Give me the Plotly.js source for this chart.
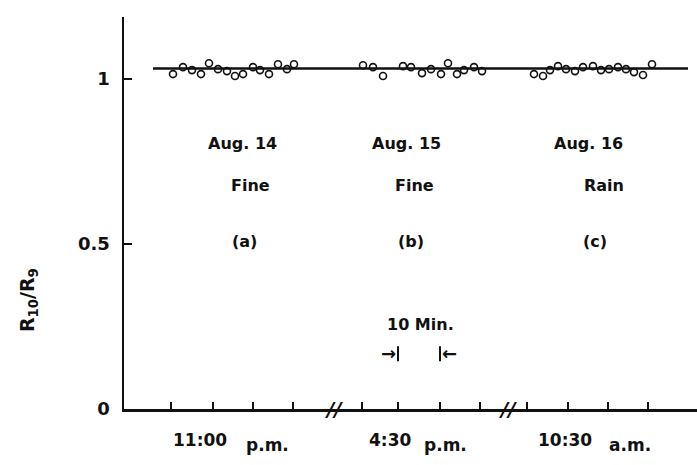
<!DOCTYPE html>
<html>
<head>
<meta charset="utf-8">
<script src="https://cdn.plot.ly/plotly-3.0.1.min.js"></script>
<style>html,body{margin:0;padding:0;background:#fff;}#chart{width:697px;height:465px;}</style>
</head>
<body>
<div id="chart"></div>
<script>
// x in minutes along a broken time axis (three recording sessions)
const xA = [12.25, 14.75, 17, 19.25, 21.25, 23.5, 25.75, 27.75, 29.75, 32.25, 34, 36.25, 38.5, 40.75, 42.5];
const yA = [1.015, 1.036, 1.027, 1.015, 1.048, 1.030, 1.024, 1.009, 1.015, 1.036, 1.027, 1.015, 1.045, 1.030, 1.045];
const xB = [59.75, 62.25, 64.75, 69.75, 71.75, 74.5, 76.75, 79.25, 81, 83.25, 85, 87.5, 89.5];
const yB = [1.042, 1.036, 1.009, 1.039, 1.036, 1.018, 1.030, 1.015, 1.048, 1.015, 1.027, 1.036, 1.024];
const xC = [102.5, 104.75, 106.5, 108.5, 110.5, 112.75, 114.75, 117.25, 119.25, 121.25, 123.5, 125.5, 127.5, 129.75, 132];
const yC = [1.015, 1.009, 1.027, 1.039, 1.030, 1.024, 1.036, 1.039, 1.027, 1.030, 1.036, 1.030, 1.021, 1.012, 1.045];
const refLevel = 1.032;
const refSpan = [7.25, 141];
const xTicks = [11.75, 22.25, 32.25, 42.25, 59.5, 68.5, 79, 89, 100.75, 111, 121, 131];
const breaks = [52.5, 96];
const timeLabels = ["11:00", "p.m.", "4:30", "p.m.", "10:30", "a.m."];
const timeLabelX = [19, 35.75, 66.5, 80.25, 110.25, 126.5];
const dayLabels = ["Aug. 14", "Aug. 15", "Aug. 16"];
const weather = ["Fine", "Fine", "Rain"];
const panels = ["(a)", "(b)", "(c)"];
const dayX = [29.5, 70.5, 116];
const weatherX = [31.5, 72.5, 119.9];
const panelX = [30, 71.75, 117.75];

const X_MAX = 143.25, Y_MAX = 1.188;
const px = v => v / X_MAX, py = v => v / Y_MAX;

const F = {family: "DejaVu Sans", size: 16, color: "#111", weight: "bold"};
const mk = {symbol: "circle-open", size: 7, color: "#111", line: {width: 1.6, color: "#111"}};

const traces = [
  {x: refSpan, y: [refLevel, refLevel], mode: "lines", line: {color: "#111", width: 2.5}, hoverinfo: "skip"},
  {x: xA, y: yA, mode: "markers", marker: mk},
  {x: xB, y: yB, mode: "markers", marker: mk},
  {x: xC, y: yC, mode: "markers", marker: mk}
];

const C = {xanchor: "center", yanchor: "middle", showarrow: false};
const ann = [];
timeLabels.forEach((t, i) => {
  const am = (t === "p.m." || t === "a.m.");
  ann.push(Object.assign({x: px(timeLabelX[i]), y: py(am ? -0.11 : -0.095), xref: "paper", yref: "paper", text: t,
            font: Object.assign({}, F, {size: 17})}, C));
});
for (let i = 0; i < 3; i++) {
  ann.push(Object.assign({x: dayX[i], y: 0.806, text: dayLabels[i], font: F}, C));
  ann.push(Object.assign({x: weatherX[i], y: 0.676, text: weather[i], font: F}, C));
  ann.push(Object.assign({x: panelX[i], y: 0.509, text: panels[i], font: F}, C));
}
ann.push(Object.assign({x: 74, y: 0.255, text: "10 Min.", font: F}, C));
ann.push(Object.assign({x: xTicks[5] - 2.3, y: 0.167, text: "→", font: {family: "DejaVu Sans", size: 18, color: "#111", weight: "bold"}}, C));
ann.push(Object.assign({x: xTicks[6] + 2.3, y: 0.167, text: "←", font: {family: "DejaVu Sans", size: 18, color: "#111", weight: "bold"}}, C));
breaks.forEach(b => {
  ann.push(Object.assign({x: px(b), y: 0, xref: "paper", yref: "paper", text: "<i>//</i>",
            font: {family: "DejaVu Sans", size: 20, color: "#111", weight: "bold"}}, C));
});
ann.push(Object.assign({x: px(-24), y: py(0.33), xref: "paper", yref: "paper", text: "R<sub>10</sub>/R<sub>9</sub>", textangle: -90,
          font: {family: "DejaVu Sans", size: 19, color: "#111", weight: "bold"}}, C));

const shapes = [xTicks[5], xTicks[6]].map(v => ({type: "line", x0: v, x1: v, y0: 0.145, y1: 0.19, line: {color: "#111", width: 2}}));

const layout = {
  width: 697, height: 465,
  margin: {l: 124, r: 0, t: 17, b: 56},
  paper_bgcolor: "#fff", plot_bgcolor: "#fff",
  showlegend: false,
  xaxis: {range: [0, X_MAX], showgrid: false, zeroline: false, showline: true, linecolor: "#111", linewidth: 2.5,
          tickvals: xTicks, showticklabels: false, ticks: "inside", ticklen: 7, tickwidth: 2, tickcolor: "#111"},
  yaxis: {range: [0, Y_MAX], showgrid: false, zeroline: false, showline: true, linecolor: "#111", linewidth: 2.5,
          tickvals: [0, 0.5, 1], ticktext: ["0", "0.5", "1"], ticks: "inside", ticklen: 8, tickwidth: 2, tickcolor: "#111",
          tickfont: {family: "DejaVu Sans", size: 18, color: "#111", weight: "bold"}, ticklabelstandoff: 8},
  annotations: ann,
  shapes: shapes
};

Plotly.newPlot("chart", traces, layout, {staticPlot: true, displayModeBar: false});
</script>
</body>
</html>
